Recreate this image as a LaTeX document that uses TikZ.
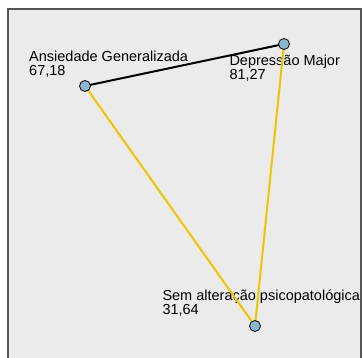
\documentclass[tikz,border=0pt]{standalone}
\usepackage{fontspec}
\setmainfont{Liberation Sans}
\definecolor{panelgray}{HTML}{EBEBEB}
\definecolor{framegray}{HTML}{555555}
\definecolor{vertexblue}{HTML}{8DB6CE}
\definecolor{edgeyellow}{HTML}{F2C300}
\begin{document}
\begin{tikzpicture}[
    x = 1pt,
    y = -1pt,
    font = \fontsize{14.5}{14}\selectfont,
    vertex/.style = {circle, draw = black, fill = vertexblue, inner sep = 0pt, minimum size = 11pt, line width = 0.8pt},
    vlabel/.style = {anchor = base west, align = left, inner sep = 0pt},
    strong/.style = {line width = 2pt, draw = black},
    weak/.style = {line width = 2pt, draw = edgeyellow}
  ]
    \useasboundingbox (0, 0) rectangle (362, 358);
    \begin{scope}
      \clip (0, 0) rectangle (362, 358);
      \draw[fill = panelgray, draw = framegray, line width = 1.5pt] (8, 9) rectangle (361, 380);
    \end{scope}
    \node[vlabel] (ansiedade_label) at (29, 75.5) {Ansiedade Generalizada\\67,18};
    \node[vlabel] (depressao_label) at (229.3, 80) {Depressão Major\\81,27};
    \node[vlabel] (sem_label) at (162.3, 315) {Sem alteração psicopatológica\\31,64};
    \coordinate (ansiedade_pos) at (85, 86);
    \coordinate (depressao_pos) at (284, 44);
    \coordinate (sem_pos) at (255, 326);
    \draw[strong] (ansiedade_pos) -- (depressao_pos);
    \draw[weak] (ansiedade_pos) -- (sem_pos);
    \draw[weak] (depressao_pos) -- (sem_pos);
    \node[vertex] (ansiedade) at (ansiedade_pos) {};
    \node[vertex] (depressao) at (depressao_pos) {};
    \node[vertex] (sem) at (sem_pos) {};
  \end{tikzpicture}
\end{document}
